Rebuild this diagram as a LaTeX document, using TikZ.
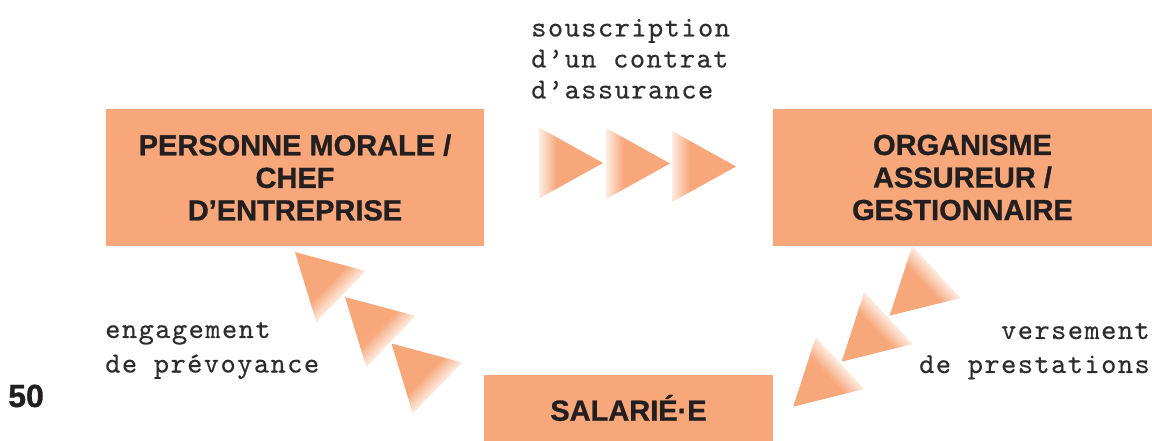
\documentclass[tikz,border=0pt]{standalone}
\usepackage{fontspec}
\setmainfont{Liberation Sans}
\newfontfamily\boxf{Liberation Sans Bold}[FakeBold=1]
\newfontfamily\monof{lmmono10-regular.otf}[LetterSpace=5,FakeBold=0.3]
\definecolor{boxc}{RGB}{247,167,122}
\definecolor{palec}{RGB}{253,236,226}
\definecolor{txtc}{RGB}{35,31,32}
\definecolor{monoc}{RGB}{45,45,45}
\pgfdeclarehorizontalshading{trifade}{100bp}{color(0bp)=(palec); color(25bp)=(palec); color(39bp)=(boxc); color(100bp)=(boxc)}
\newcommand\tri[3]{%
  \begin{scope}[transform canvas={shift={(#1,#2)},rotate=#3}]
    \shade[shading=trifade] (0,-35.5) -- (0,35.5) -- (64,0) -- cycle;
  \end{scope}}
\begin{document}
\begin{tikzpicture}[x=0.75pt,y=-0.75pt,
  box/.style={fill=boxc, draw=none, inner sep=0pt, align=center, text=txtc,
    font=\boxf\fontsize{21.75}{24.4}\selectfont},
  lbl/.style={inner sep=0pt, text=monoc, font=\monof\fontsize{21.75}{26}\selectfont}]
\useasboundingbox[fill=white] (0,0) rectangle (1152,441);
% boxes
\node[box, minimum width=283.5pt, minimum height=102.75pt] (pm) at (295,177.5)
  {PERSONNE MORALE /\\CHEF\\D’ENTREPRISE};
\node[box, minimum width=284.25pt, minimum height=102.75pt] (oa) at (962.5,177.5)
  {ORGANISME\\ASSUREUR /\\GESTIONNAIRE};
\node[box, minimum width=216.75pt, minimum height=49.5pt, text height=19pt, text depth=0pt] (sal) at (628.5,408)
  {SALARIÉ·E};
% arrows of triangles
\tri{539}{163}{0}
\tri{606}{163.5}{0}
\tri{672}{166.5}{0}
\tri{341}{296.5}{136}
\tri{391}{341.5}{136}
\tri{437.5}{388}{136}
\tri{936.5}{272}{223}
\tri{888.5}{318}{223}
\tri{840}{363}{223}
% labels
\node[lbl, anchor=base west] (s1) at (531,36.5) {souscription};
\node[lbl, anchor=base west] (s2) at (531,67.5) {d’un contrat};
\node[lbl, anchor=base west] (s3) at (531,98.5) {d’assurance};
\node[lbl, anchor=base west] (e1) at (105,338) {engagement};
\node[lbl, anchor=base west] (e2) at (105,372.5) {de prévoyance};
\node[lbl, anchor=base east] (v1) at (1150,339) {versement};
\node[lbl, anchor=base east] (v2) at (1150,373) {de prestations};
\node[inner sep=0pt, anchor=base west, text=txtc, font=\boxf\fontsize{24}{28}\selectfont] (pg) at (8,407) {50};
\end{tikzpicture}
\end{document}
